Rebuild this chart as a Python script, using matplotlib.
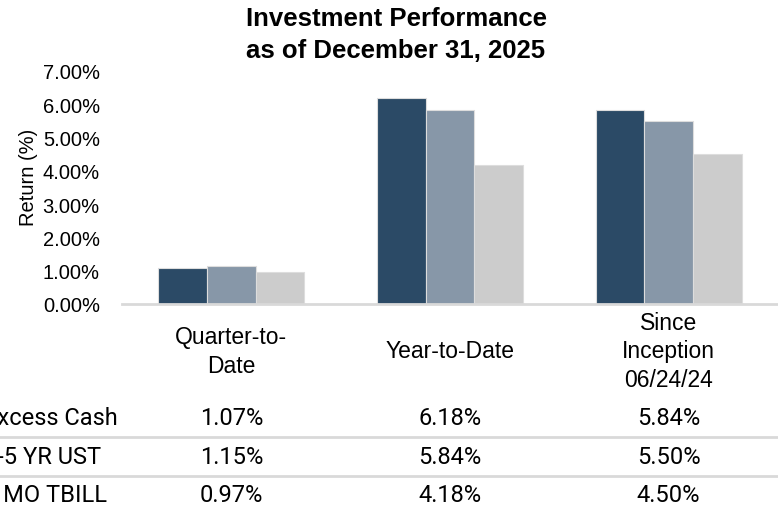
import matplotlib.pyplot as plt
import numpy as np
from matplotlib.ticker import PercentFormatter

# data
categories = ["Quarter-to-\nDate", "Year-to-Date", "Since\nInception\n06/24/24"]
series_names = ["Excess Cash", "1-5 YR UST", "3 MO TBILL"]
excess_cash = [1.07, 6.18, 5.84]
ust_1_5 = [1.15, 5.84, 5.50]
tbill_3mo = [0.97, 4.18, 4.50]
colors = ["#2b4a66", "#8797a8", "#cccccc"]

plt.rcParams['font.family'] = ['Liberation Sans', 'DejaVu Sans']

fig = plt.figure(figsize=(7.78, 5.06), dpi=100)
ax = fig.add_axes([122 / 778, 1 - 305 / 506, 656 / 778, 233 / 506])

x = np.arange(len(categories))
w = 0.223
for i, (vals, c) in enumerate(zip([excess_cash, ust_1_5, tbill_3mo], colors)):
    ax.bar(x + (i - 1) * w, vals, w, color=c, edgecolor="#dddddd", linewidth=0.8, zorder=2)

ax.set_xlim(-0.5, 2.5)
ax.set_ylim(0, 7)
ax.set_yticks(np.arange(0, 8, 1))
ax.yaxis.set_major_formatter(PercentFormatter(decimals=2))
ax.tick_params(axis='y', length=0, labelsize=14.5, pad=16)
ax.tick_params(axis='x', length=0, labelbottom=False)
for s in ["top", "right", "left"]:
    ax.spines[s].set_visible(False)
ax.spines["bottom"].set_color("#d9d9d9")
ax.spines["bottom"].set_linewidth(2)
ax.spines["bottom"].set_zorder(3)

fig.text(28 / 778, 1 - 177 / 506, "Return (%)", rotation=90, ha="center", va="center",
         fontsize=14.5)

# title
fig.text(396 / 778, 1 - 35 / 506, "Investment Performance\nas of December 31, 2025",
         ha="center", va="center", fontsize=18.5, fontweight="bold", linespacing=1.4)

# category labels
for xi, lab in zip(x, categories):
    ax.annotate(lab, (xi, 0), xycoords=("data", "axes fraction"), xytext=(0, -47),
                textcoords="offset pixels", ha="center", va="center", fontsize=16.5,
                linespacing=1.3)

# table
row_y = [419, 458, 496]
for name, vals, ry in zip(series_names, [excess_cash, ust_1_5, tbill_3mo], row_y):
    fig.text(-16 / 778, 1 - ry / 506, name, ha="left", va="center", fontsize=17,
             family=["Roboto", "DejaVu Sans"])
    for xi, v in zip(x, vals):
        xp = ax.transData.transform((xi, 0))[0] / fig.bbox.width
        fig.text(xp, 1 - ry / 506, f"{v:.2f}%", ha="center", va="center", fontsize=17,
                 family=["Roboto", "DejaVu Sans"])

for ly in [438, 477]:
    fig.add_artist(plt.Line2D([0, 1], [1 - ly / 506] * 2, color="#d9d9d9", linewidth=2))

fig.savefig("out.png", dpi=100)
